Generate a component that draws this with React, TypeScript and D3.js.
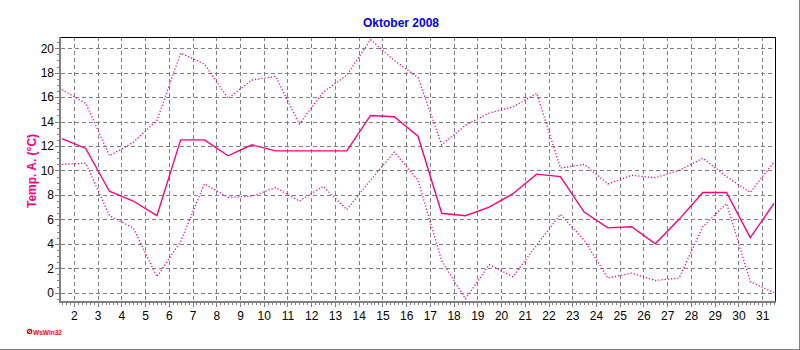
import React from "react";
import * as d3 from "d3";

const days = d3.range(1, 32);
const tMean = [12.6, 11.8, 8.3, 7.5, 6.3, 12.5, 12.5, 11.2, 12.1, 11.6, 11.6, 11.6, 11.6, 14.5, 14.4, 12.8, 6.5, 6.3, 7.0, 8.1, 9.7, 9.5, 6.6, 5.3, 5.4, 4.0, 6.0, 8.2, 8.2, 4.5, 7.3];
const tMax = [16.6, 15.5, 11.2, 12.3, 14.1, 19.6, 18.7, 15.9, 17.4, 17.7, 13.8, 16.4, 17.8, 20.7, 19.0, 17.6, 12.1, 13.7, 14.7, 15.2, 16.3, 10.2, 10.5, 8.9, 9.6, 9.4, 10.0, 11.0, 9.5, 8.2, 10.7];
const tMin = [10.5, 10.6, 6.3, 5.3, 1.3, 4.2, 8.9, 7.8, 7.9, 8.6, 7.5, 8.7, 6.8, 9.2, 11.5, 9.2, 2.6, -0.5, 2.3, 1.3, 3.9, 6.4, 4.3, 1.2, 1.6, 1.0, 1.2, 5.4, 7.3, 0.9, 0.0];
const xTickLabels = d3.range(2, 32);
const yTicks = [0, 2, 4, 6, 8, 10, 12, 14, 16, 18, 20];
const title = "Oktober 2008";
const yLabel = "Temp. A. (°C)";

const W = 800;
const H = 350;
const L = 61;
const R = 775;
const T = 37;
const B = 301;
const LINE = "#ff0080";
const GRID = "#808080";
const FONT = "'Liberation Sans', Arial, sans-serif";

export default function App() {
  const x = d3.scaleLinear().domain([1.5, 31.5]).range([62, 774]);
  const y = d3.scaleLinear().domain([-0.68, 20.92]).range([B, T]);
  const pos = (d: number) => x(d + 0.5);
  const mk = (vals: number[]) =>
    d3
      .line<number>()
      .x((_, i) => pos(days[i]))
      .y((v) => y(v))(vals) || "";

  const xMinor = d3.range(0, 181).map((i) => 1.5 + i / 6);
  const yMinor = d3.range(-0.5, 20.9, 0.5);

  return (
    <svg
      width={W}
      height={H}
      style={{ position: "absolute", left: 0, top: 0, display: "block" }}
      shapeRendering="crispEdges"
    >
      <rect x={0} y={0} width={W} height={H} fill="#ffffff" />
      {/* outer frame */}
      <line x1={799.5} y1={0} x2={799.5} y2={H} stroke={GRID} strokeWidth={1} />
      <line x1={0} y1={349.5} x2={W} y2={349.5} stroke={GRID} strokeWidth={1} />

      {/* title */}
      <text x={401} y={27} textAnchor="middle" fontFamily={FONT} fontSize={12} fontWeight="bold" fill="#0000ff">
        {title}
      </text>

      {/* grid */}
      {yTicks.map((t) => (
        <line key={"gy" + t} x1={L} x2={R} y1={Math.round(y(t)) + 0.5} y2={Math.round(y(t)) + 0.5} stroke={GRID} strokeWidth={1} strokeDasharray="4,3" />
      ))}
      {xTickLabels.map((t) => (
        <line key={"gx" + t} y1={T} y2={B} x1={Math.round(x(t)) + 0.5} x2={Math.round(x(t)) + 0.5} stroke={GRID} strokeWidth={1} strokeDasharray="4,3" />
      ))}

      {/* frame top/right */}
      <line x1={L} x2={R + 0.5} y1={T + 0.5} y2={T + 0.5} stroke="#000" strokeWidth={1} />
      <line x1={R + 0.5} x2={R + 0.5} y1={T} y2={B} stroke="#000" strokeWidth={1} />

      {/* series */}
      <g shapeRendering="auto" fill="none" stroke={LINE}>
        <path d={mk(tMax)} strokeWidth={1.3} strokeDasharray="1.2,2" />
        <path d={mk(tMin)} strokeWidth={1.3} strokeDasharray="1.2,2" />
        <path d={mk(tMean)} strokeWidth={1.4} />
      </g>

      {/* axes */}
      <line x1={L - 1} x2={L - 1} y1={T} y2={B + 2} stroke={GRID} strokeWidth={2} />
      <line x1={L - 2} x2={R + 1} y1={B + 1} y2={B + 1} stroke={GRID} strokeWidth={2} />
      {yMinor.map((v) => (
        <line key={"ym" + v} x1={L - 4} x2={L - 2} y1={Math.round(y(v)) + 0.5} y2={Math.round(y(v)) + 0.5} stroke={GRID} strokeWidth={1} />
      ))}
      {yTicks.map((t) => (
        <line key={"yt" + t} x1={L - 6} x2={L - 2} y1={Math.round(y(t)) + 0.5} y2={Math.round(y(t)) + 0.5} stroke={GRID} strokeWidth={1} />
      ))}
      {xMinor.map((v, i) => (
        <line key={"xm" + i} y1={B + 2} y2={B + 4} x1={Math.round(x(v)) + 0.5} x2={Math.round(x(v)) + 0.5} stroke={GRID} strokeWidth={1} />
      ))}
      {xTickLabels.map((t) => (
        <line key={"xt" + t} y1={B + 2} y2={B + 6} x1={Math.round(x(t)) + 0.5} x2={Math.round(x(t)) + 0.5} stroke={GRID} strokeWidth={1} />
      ))}

      {/* tick labels */}
      {yTicks.map((t) => (
        <text key={"yl" + t} x={54} y={y(t)} dy="0.36em" textAnchor="end" fontFamily={FONT} fontSize={12} fill="#000">
          {t}
        </text>
      ))}
      {xTickLabels.map((t) => (
        <text key={"xl" + t} x={x(t) + 0.5} y={319.5} textAnchor="middle" fontFamily={FONT} fontSize={12} fill="#000">
          {t}
        </text>
      ))}

      {/* y label */}
      <text
        transform={`translate(36,171) rotate(-90)`}
        textAnchor="middle"
        fontFamily={FONT}
        fontSize={12}
        fontWeight="bold"
        fill={LINE}
      >
        {yLabel}
      </text>

      {/* logo */}
      <g shapeRendering="auto">
        <circle cx={29.5} cy={331.5} r={2.2} fill="none" stroke="#ff0000" strokeWidth={1.2} />
        <line x1={28} y1={333} x2={31} y2={330} stroke="#ff0000" strokeWidth={1} />
        <text x={33} y={334.5} fontFamily={FONT} fontSize={8} fontWeight="bold" fill="#ff0000" textLength={29} lengthAdjust="spacingAndGlyphs">
          WsWin32
        </text>
      </g>
    </svg>
  );
}
